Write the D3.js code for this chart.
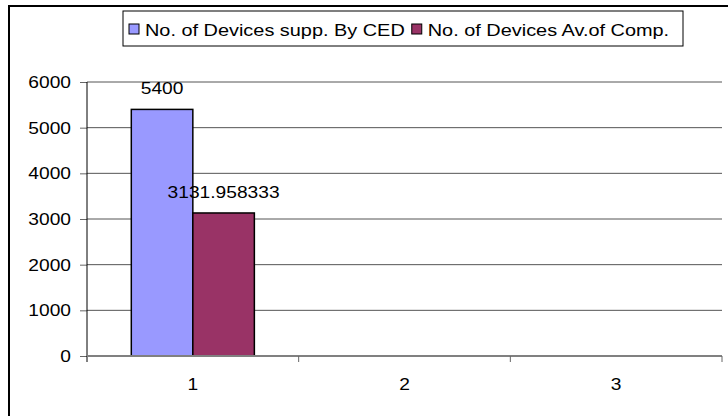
<!DOCTYPE html>
<html>
<head>
<meta charset="utf-8">
<script src="https://cdn.jsdelivr.net/npm/d3@7"></script>
<style>
  body { margin: 0; background: #fff; }
  svg { display: block; font-family: "Liberation Sans", Arial, sans-serif; }
</style>
</head>
<body>
<div id="chart"></div>
<script>
// chart data
const categories = ["1", "2", "3"];
const seriesNames = ["No. of Devices supp. By CED", "No. of Devices Av.of Comp."];
const cedValues = [5400, null, null];
const compValues = [3131.958333, null, null];
const valueLabels = ["5400", "3131.958333"];
const yTicks = [0, 1000, 2000, 3000, 4000, 5000, 6000];
const colors = ["#9999FF", "#993366"];

const w = 728, h = 416;
const marginLeft = 87, marginRight = 6, marginTop = 82, marginBottom = 60;
const fontSize = 17;
const sxNum = 1.13;   // the original text is a bit wider than it is tall
const sxLeg = 1.17;

const svg = d3.select("#chart").append("svg")
    .attr("width", w)
    .attr("height", h);

// outer frame (runs off the right and bottom edge)
svg.append("rect")
    .attr("x", 9).attr("y", 6)
    .attr("width", 760).attr("height", 440)
    .attr("fill", "none")
    .attr("stroke", "#000")
    .attr("stroke-width", 2);

const x = d3.scaleBand()
    .domain(categories)
    .range([marginLeft, w - marginRight])
    .padding(0);

const xSub = d3.scaleBand()
    .domain(d3.range(seriesNames.length))
    .range([0, x.bandwidth()])
    .paddingInner(0)
    .paddingOuter(0.72);

const y = d3.scaleLinear()
    .domain([0, 6000])
    .range([h - marginBottom, marginTop]);

// gridlines
svg.append("g")
  .selectAll("line")
  .data(yTicks.filter(d => d > 0))
  .join("line")
    .attr("x1", marginLeft).attr("x2", w - marginRight)
    .attr("y1", d => y(d)).attr("y2", d => y(d))
    .attr("stroke", "#555")
    .attr("stroke-width", 1);

// bars
const seriesData = [cedValues, compValues];
const bars = [];
seriesData.forEach((vals, s) => {
  vals.forEach((v, i) => {
    if (v != null) bars.push({ cat: categories[i], s: s, v: v });
  });
});

svg.append("g")
  .selectAll("rect")
  .data(bars)
  .join("rect")
    .attr("x", d => x(d.cat) + xSub(d.s))
    .attr("y", d => y(d.v))
    .attr("width", xSub.bandwidth())
    .attr("height", d => y(0) - y(d.v))
    .attr("fill", d => colors[d.s])
    .attr("stroke", "#000")
    .attr("stroke-width", 1.5);

// value labels
svg.append("g")
  .selectAll("text")
  .data(bars)
  .join("text")
    .attr("transform", d => `translate(${x(d.cat) + xSub(d.s) + xSub.bandwidth() / 2},${y(d.v) - 15}) scale(${sxNum},1)`)
    .attr("text-anchor", "middle")
    .attr("font-size", fontSize)
    .attr("fill", "#000")
    .text(d => valueLabels[d.s]);

// y axis
svg.append("g")
    .attr("transform", `translate(${marginLeft},0)`)
    .call(d3.axisLeft(y).tickValues(yTicks).tickSize(7).tickPadding(9).tickFormat(d3.format("d")))
    .call(g => g.select(".domain").remove())
    .call(g => g.selectAll(".tick line").attr("stroke", "#666"))
    .call(g => g.selectAll(".tick text")
        .attr("x", 0)
        .attr("transform", `translate(-16,0) scale(${sxNum},1)`)
        .attr("font-size", fontSize)
        .attr("font-family", "Liberation Sans, Arial, sans-serif")
        .attr("fill", "#000"));

svg.append("line")
    .attr("x1", marginLeft).attr("x2", marginLeft)
    .attr("y1", y(6000)).attr("y2", y(0) + 6)
    .attr("stroke", "#000")
    .attr("stroke-width", 1);

// x axis
const xAxis = svg.append("g")
    .attr("transform", `translate(0,${y(0)})`);

xAxis.append("line")
    .attr("x1", marginLeft).attr("x2", w - marginRight)
    .attr("stroke", "#808080")
    .attr("stroke-width", 2);

xAxis.selectAll(".sep")
  .data(categories.slice(1).concat(["end"]))
  .join("line")
    .attr("class", "sep")
    .attr("x1", d => d === "end" ? w - marginRight : x(d))
    .attr("x2", d => d === "end" ? w - marginRight : x(d))
    .attr("y1", 0).attr("y2", 6)
    .attr("stroke", "#666");

xAxis.selectAll(".lbl")
  .data(categories)
  .join("text")
    .attr("class", "lbl")
    .attr("transform", d => `translate(${x(d) + x.bandwidth() / 2},34) scale(${sxNum},1)`)
    .attr("text-anchor", "middle")
    .attr("font-size", fontSize)
    .text(d => d);

// legend
const legend = svg.append("g");
legend.append("rect")
    .attr("x", 123).attr("y", 11)
    .attr("width", 560).attr("height", 35)
    .attr("fill", "#fff")
    .attr("stroke", "#000")
    .attr("stroke-width", 1);

let lx = 129;
seriesNames.forEach((name, i) => {
  legend.append("rect")
      .attr("x", lx).attr("y", 24)
      .attr("width", 10).attr("height", 10)
      .attr("fill", colors[i])
      .attr("stroke", "#000")
      .attr("stroke-width", 1);
  const t = legend.append("text")
      .attr("transform", `translate(${lx + 16},36) scale(${sxLeg},1)`)
      .attr("font-size", fontSize)
      .text(name);
  lx += 16 + t.node().getComputedTextLength() * sxLeg + 7;
});
</script>
</body>
</html>
